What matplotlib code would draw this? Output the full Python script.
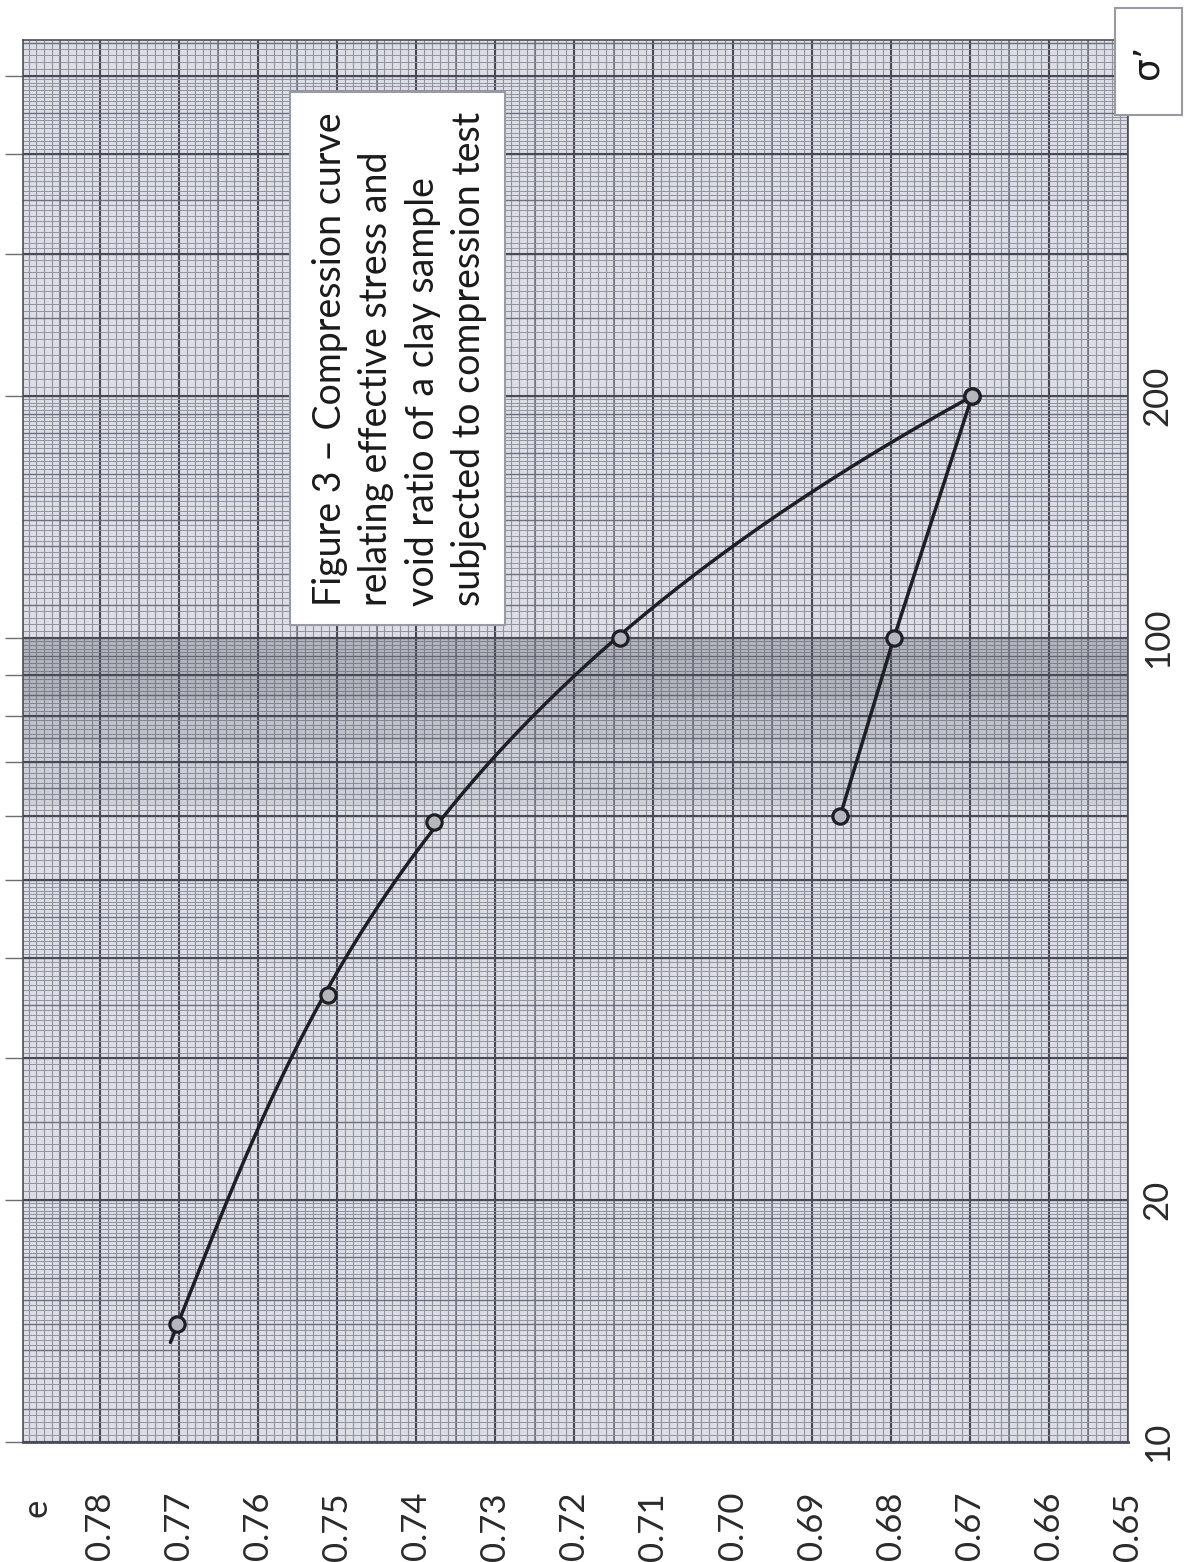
import numpy as np
import matplotlib
matplotlib.use("Agg")
import matplotlib.pyplot as plt
from matplotlib.patches import Rectangle

plt.rcParams['font.family'] = ['Lato', 'DejaVu Sans']

# ---------------- data ----------------
load_stress = [14, 36, 59, 100, 200]          # sigma' (loading branch)
load_void = [0.7702, 0.7512, 0.7378, 0.7142, 0.6697]
unload_stress = [200, 100, 60]                # sigma' (unloading branch)
unload_void = [0.6697, 0.6796, 0.6864]
curve_start_stress = 13.3                     # hand-drawn curve starts a bit before 1st point

e_ticks = [0.78, 0.77, 0.76, 0.75, 0.74, 0.73, 0.72, 0.71, 0.70, 0.69, 0.68, 0.67, 0.66, 0.65]
e_ticklabels = ["0.78", "0.77", "0.76", "0.75", "0.74", "0.73", "0.72", "0.71",
                "0.70", "0.69", "0.68", "0.67", "0.66", "0.65"]
s_labels = [10, 20, 100, 200]
title_lines = ["Figure 3 \u2013 Compression curve",
               "relating effective stress and",
               "void ratio of a clay sample",
               "subjected to compression test"]

W, H = 1187, 1562
fig = plt.figure(figsize=(W / 100, H / 100), dpi=100)
fig.patch.set_facecolor('white')

x0, x1, ytop, ybot = 23, 1128, 40, 1442
ax = fig.add_axes([x0 / W, (H - ybot) / H, (x1 - x0) / W, (ybot - ytop) / H])
ax.set_yscale('log')
ax.set_xlim(0.7897, 0.6504)
ax.set_ylim(10, 554)
ax.set_facecolor('#dcdee4')

# ---- graph-paper grid: void ratio (vertical lines) ----
xt = ax.get_xaxis_transform()
yt = ax.get_yaxis_transform()
fine_e = np.round(np.arange(0.650, 0.7901, 0.001), 4)
med_e = np.round(np.arange(0.650, 0.7901, 0.005), 4)
maj_e = np.round(np.arange(0.650, 0.7901, 0.01), 4)
ax.vlines(fine_e, 0, 1, transform=xt, color='#8f93a1', lw=0.8, zorder=1)
ax.vlines(med_e, 0, 1, transform=xt, color='#6c707e', lw=1.1, zorder=1)
ax.vlines(maj_e, 0, 1, transform=xt, color='#474a56', lw=1.5, zorder=1)

# ---- graph-paper grid: log stress (horizontal lines) ----
fine_s, med_s, maj_s = [], [], []
for d in [10, 100]:
    fine_s += list(d * np.arange(1.0, 2.0, 0.02)) + list(d * np.arange(2.0, 5.0, 0.05)) \
        + list(d * np.arange(5.0, 10.0, 0.1))
    med_s += list(d * np.arange(1.0, 2.0, 0.1)) + list(d * np.arange(2.0, 10.0, 0.5))
    maj_s += list(d * np.arange(1, 10))
ax.hlines(fine_s, 0, 1, transform=yt, color='#8f93a1', lw=0.7, zorder=1)
ax.hlines(med_s, 0, 1, transform=yt, color='#6c707e', lw=1.0, zorder=1)
ax.hlines(maj_s, 0, 1, transform=yt, color='#474a56', lw=1.5, zorder=1)

# scanner shading band
ax.axhspan(84, 100, color='#50535e', alpha=0.30, lw=0, zorder=1.5)
ax.axhspan(74, 84, color='#50535e', alpha=0.20, lw=0, zorder=1.5)
ax.axhspan(62, 74, color='#50535e', alpha=0.10, lw=0, zorder=1.5)

# ---- curves ----
coef = np.polyfit(np.log10(load_stress), load_void, 3)
ls = np.linspace(np.log10(curve_start_stress), np.log10(max(load_stress)), 300)
ax.plot(np.polyval(coef, ls), 10 ** ls, color='#1e1f24', lw=2.5, zorder=3,
        solid_capstyle='round')
ax.plot(unload_void, unload_stress, color='#1e1f24', lw=2.5, zorder=3,
        solid_capstyle='round')
ax.plot(load_void, load_stress, 'o', ms=11, mfc='#b4b6be', mec='#1e1f24', mew=2.3, zorder=4)
ax.plot(unload_void, unload_stress, 'o', ms=11, mfc='#b4b6be', mec='#1e1f24', mew=2.3, zorder=4)

# ---- axes / ticks ----
for s in ax.spines.values():
    s.set_color('#4a4d58')
    s.set_linewidth(1.2)
ax.spines['bottom'].set_linewidth(2.0)
ax.set_xticks(e_ticks)
ax.set_xticklabels(e_ticklabels, rotation=90, fontsize=25, color='#2a2a2a')
ax.tick_params(axis='x', length=0, pad=36)
for lab in ax.get_xticklabels():
    lab.set_va('top')
ax.set_yticks(maj_s[:-4])
ax.set_yticks([], minor=True)
ax.set_yticklabels([])
ax.tick_params(axis='y', which='major', length=13, width=1.0, color='#6a6d78', direction='out')

for s in s_labels:
    ax.text(1.027, s, str(s), transform=yt, rotation=90, fontsize=25,
            color='#2a2a2a', ha='center', va='center')

fig.text(36 / W, 1 - 1508 / H, 'e', rotation=90, fontsize=25, color='#2a2a2a',
         ha='center', va='center')

# ---- caption box ----
bx0, bx1, by0, by1 = 290, 505, 92, 625
fig.patches.append(Rectangle((bx0 / W, 1 - by1 / H), (bx1 - bx0) / W, (by1 - by0) / H,
                             transform=fig.transFigure, facecolor='white',
                             edgecolor='#9a9aa2', lw=1.5, zorder=5))
fig.text((bx0 + bx1) / 2 / W + 2 / W, 1 - (by0 + by1) / 2 / H, "\n".join(title_lines),
         rotation=90, fontsize=27, color='#1a1a1a', ha='center', va='center',
         multialignment='left', linespacing=1.36, zorder=6)

# ---- sigma' box ----
fig.patches.append(Rectangle((1115 / W, 1 - 115 / H), 67 / W, 107 / H,
                             transform=fig.transFigure, facecolor='white',
                             edgecolor='#9a9aa2', lw=1.5, zorder=5))
fig.text(1148 / W, 1 - 62 / H, "\u03c3\u2019", rotation=90, fontsize=26, color='#1a1a1a',
         ha='center', va='center', family=['DejaVu Sans'], zorder=6)

fig.savefig('out.png', dpi=100, facecolor='white')
